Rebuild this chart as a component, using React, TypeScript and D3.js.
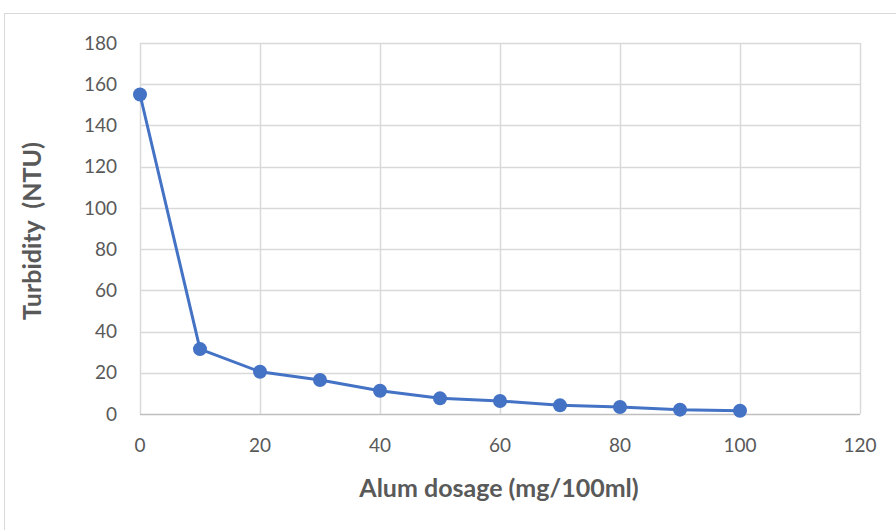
import React, { useRef, useEffect } from "react";
import * as d3 from "d3";

const dosage = [0, 10, 20, 30, 40, 50, 60, 70, 80, 90, 100];
const turbidity = [155, 31.5, 20.5, 16.5, 11.3, 7.6, 6.3, 4.2, 3.4, 2.1, 1.6];
const xTicks = [0, 20, 40, 60, 80, 100, 120];
const yTicks = [0, 20, 40, 60, 80, 100, 120, 140, 160, 180];

const App: React.FC = () => {
  const ref = useRef<SVGSVGElement | null>(null);

  useEffect(() => {
    const svg = d3.select(ref.current);
    svg.selectAll("*").remove();

    const width = 896;
    const height = 530;
    const font = "Lato, 'Open Sans', sans-serif";

    svg.attr("width", width).attr("height", height);

    svg
      .append("rect")
      .attr("width", width)
      .attr("height", height)
      .attr("fill", "#fff");

    // chart frame
    svg
      .append("rect")
      .attr("x", 4.5)
      .attr("y", 13.5)
      .attr("width", width + 20)
      .attr("height", height + 20)
      .attr("fill", "none")
      .attr("stroke", "#d9d9d9");

    const x = d3.scaleLinear().domain([0, 120]).range([140, 860]);
    const y = d3.scaleLinear().domain([0, 180]).range([414, 43]);

    const grid = svg.append("g");
    grid
      .selectAll("line.h")
      .data(yTicks.slice(1))
      .enter()
      .append("line")
      .attr("x1", x(0))
      .attr("x2", x(120))
      .attr("y1", (d) => Math.round(y(d)) + 0.5)
      .attr("y2", (d) => Math.round(y(d)) + 0.5)
      .attr("stroke", "#d9d9d9")
      .attr("stroke-width", 1.5);
    grid
      .selectAll("line.v")
      .data(xTicks)
      .enter()
      .append("line")
      .attr("y1", y(0))
      .attr("y2", y(180))
      .attr("x1", (d) => Math.round(x(d)) + 0.5)
      .attr("x2", (d) => Math.round(x(d)) + 0.5)
      .attr("stroke", "#d9d9d9")
      .attr("stroke-width", 1.5);

    // x axis line
    svg
      .append("line")
      .attr("x1", x(0))
      .attr("x2", x(120))
      .attr("y1", y(0) + 0.5)
      .attr("y2", y(0) + 0.5)
      .attr("stroke", "#bfbfbf")
      .attr("stroke-width", 1.5);

    svg
      .append("g")
      .selectAll("text")
      .data(yTicks)
      .enter()
      .append("text")
      .attr("x", 117)
      .attr("y", (d) => y(d))
      .attr("dy", "0.35em")
      .attr("text-anchor", "end")
      .attr("font-family", font)
      .attr("font-size", 19)
      .attr("fill", "#595959")
      .text((d) => d);

    svg
      .append("g")
      .selectAll("text")
      .data(xTicks)
      .enter()
      .append("text")
      .attr("x", (d) => x(d))
      .attr("y", 452)
      .attr("text-anchor", "middle")
      .attr("font-family", font)
      .attr("font-size", 19)
      .attr("fill", "#595959")
      .text((d) => d);

    svg
      .append("text")
      .attr("x", 499)
      .attr("y", 497)
      .attr("text-anchor", "middle")
      .attr("font-family", font)
      .attr("font-size", 25)
      .attr("font-weight", "bold")
      .attr("fill", "#595959")
      .text("Alum dosage (mg/100ml)");

    svg
      .append("text")
      .attr("transform", "translate(41, 231) rotate(-90)")
      .attr("text-anchor", "middle")
      .attr("font-family", font)
      .attr("font-size", 25)
      .attr("font-weight", "bold")
      .attr("fill", "#595959")
      .style("white-space", "pre")
      .text("Turbidity  (NTU)");

    const pts = dosage.map((d, i) => [d, turbidity[i]] as [number, number]);
    const line = d3
      .line<[number, number]>()
      .x((d) => x(d[0]))
      .y((d) => y(d[1]));

    svg
      .append("path")
      .datum(pts)
      .attr("d", line)
      .attr("fill", "none")
      .attr("stroke", "#4472c4")
      .attr("stroke-width", 3)
      .attr("stroke-linejoin", "round");

    svg
      .append("g")
      .selectAll("circle")
      .data(pts)
      .enter()
      .append("circle")
      .attr("cx", (d) => x(d[0]))
      .attr("cy", (d) => y(d[1]))
      .attr("r", 7)
      .attr("fill", "#4472c4");
  }, []);

  return (
    <svg
      ref={ref}
      style={{ position: "absolute", left: 0, top: 0, display: "block" }}
    ></svg>
  );
};

export default App;
